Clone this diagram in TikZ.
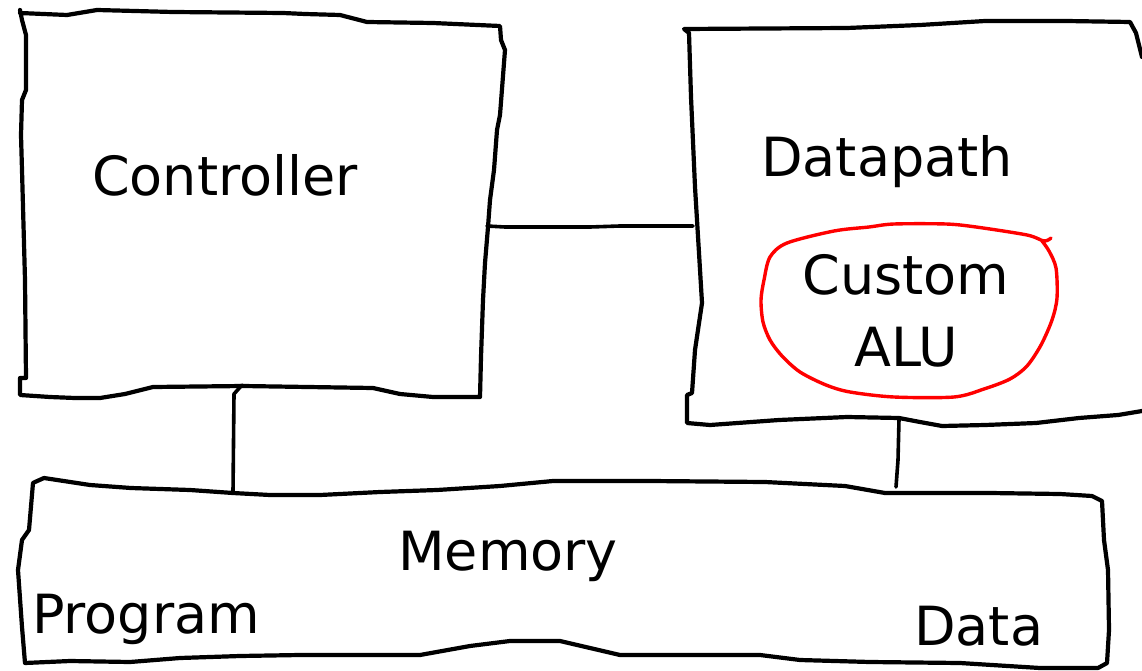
\documentclass[tikz,border=0pt]{standalone}
\usepackage{fontspec}
\setmainfont{DejaVu Sans}
\begin{document}
\begin{tikzpicture}[x=1pt,y=-1pt,
  pen/.style={line width=4.2pt,line join=round,line cap=round,black},
  wire/.style={line width=3.6pt,line cap=round,line join=round,black},
  redpen/.style={line width=3.4pt,line join=round,line cap=round,red},
  lbl/.style={inner sep=0pt,anchor=base west,font=\fontsize{54}{72}\selectfont}]
\useasboundingbox (0,0) rectangle (1142,671);
% Controller box
\draw[pen] (20,10) -- (22,20) -- (26,35) -- (26,90) -- (22,100) -- (21,135) -- (22,170)
  -- (25,280) -- (26,378) -- (20,378) -- (20,395) -- (50,397) -- (75,398) -- (100,398)
  -- (125,394) -- (153,387) -- (243,386) -- (373,388) -- (400,394) -- (433,397) -- (480,397)
  -- (481,357) -- (483,300) -- (485,263) -- (488,227) -- (490,200) -- (494,170) -- (497,130)
  -- (500,115) -- (505,50) -- (501,40) -- (500,26) -- (433,23) -- (367,22) -- (340,15)
  -- (305,14) -- (283,13) -- (173,12) -- (97,10) -- (67,15) -- (20,13);
% Datapath box
\draw[pen] (1142,57) -- (1136,33) -- (1130,22) -- (1066,21) -- (985,21) -- (920,25)
  -- (847,28) -- (684,29) -- (689,33) -- (691,97) -- (695,187) -- (699,253) -- (702,303)
  -- (695,350) -- (692,393) -- (687,395) -- (687,423) -- (710,425) -- (779,420)
  -- (847,417) -- (899,418) -- (920,422) -- (942,426) -- (985,425) -- (1036,423)
  -- (1079,418) -- (1118,415) -- (1142,411);
% Memory box
\draw[pen] (35,482) -- (44,478) -- (90,485) -- (131,488) -- (190,490) -- (233,493)
  -- (270,495) -- (320,495) -- (380,492) -- (437,490) -- (500,486) -- (553,481)
  -- (650,481) -- (765,482) -- (845,486) -- (885,493) -- (990,493) -- (1060,494)
  -- (1092,496) -- (1102,501) -- (1104,540) -- (1108,570) -- (1109,630) -- (1107,663)
  -- (1098,668) -- (1040,668) -- (960,663) -- (870,662) -- (800,660) -- (760,655)
  -- (620,655) -- (590,648) -- (560,641) -- (510,641) -- (470,646) -- (420,655)
  -- (300,655) -- (240,656) -- (180,658) -- (130,662) -- (70,661) -- (25,663)
  -- (22,627) -- (18,570) -- (22,540) -- (29,530) -- (33,483) -- cycle;
% Custom ALU loop
\draw[redpen] plot[smooth,tension=0.5] coordinates {(1051,238) (1044,241) (1027,235)
  (976,227) (946,224) (894,224) (869,227) (834,231) (787,243) (770,257) (764,280)
  (761,300) (763,322) (770,340) (782,356) (800,372) (826,385) (850,392) (894,397)
  (954,397) (984,389) (1010,379) (1027,366) (1041,345) (1052,320) (1057,298)
  (1056,268) (1049,251) (1042,241)};
% Labels
\node[lbl] (ctrl) at (92,196) {Controller};
\node[lbl] (dp) at (761,176) {Datapath};
\node[inner sep=0pt,align=center,anchor=base,font=\fontsize{54}{72}\selectfont]
  (alu) at (906,366) {Custom\\ALU};
\node[lbl] (mem) at (398,570) {Memory};
\node[lbl] (prog) at (32,633) {Program};
\node[lbl] (data) at (914,645) {Data};
% Connector end points
\coordinate (cR) at (487,226);
\coordinate (dL) at (693,226);
\coordinate (cB) at (242,385);
\coordinate (mT1) at (233,492);
\coordinate (dB) at (899,419);
\coordinate (mT2) at (896,487);
% Connectors
\draw[wire] (cR) -- (505,227) -- (590,227) -- (620,226) -- (dL);
\draw[wire] (cB) -- (234,394) -- (mT1);
\draw[wire] (dB) -- (898,460) -- (mT2);
\end{tikzpicture}
\end{document}
